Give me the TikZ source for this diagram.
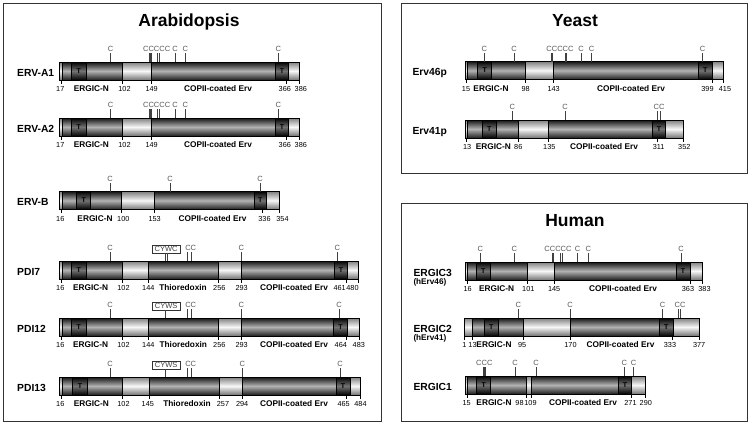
\documentclass[tikz,border=0pt]{standalone}
\usepackage{fontspec}
\setmainfont{Liberation Sans}
\usepackage{tikz}

\newcommand{\barbody}[2]{\path[lnkfill] (#1,-9) rectangle (#2,9);}
\newcommand{\domseg}[2]{\path[domfill] (#1,-9) rectangle (#2,9);}
\newcommand{\tmseg}[2]{\path[tmfill] (#1,-9) rectangle (#2,9);
  \node[tlab] at ({(#1+#2)/2},0) {T};}
\newcommand{\barframe}[2]{\draw[line width=0.55pt] (#1,-9) rectangle (#2,9);}
\newcommand{\cys}[1]{\draw[cline] (#1,-9) -- (#1,-18);}
\newcommand{\clab}[2]{\node[clabel] at (#1,-19.5) {#2};}
\newcommand{\postick}[1]{\draw[line width=0.45pt] (#1,9) -- (#1,12.5);}
\newcommand{\resnum}[2]{\node[num] at (#1,20.5) {#2};}
\newcommand{\dlab}[2]{\node[dname] at (#1,20.5) {#2};}

\begin{document}
\begin{tikzpicture}[x=1pt,y=-1pt,
  panel/.style={draw=black!80,line width=0.8pt},
  title/.style={font=\fontsize{17.5}{20}\selectfont\bfseries,anchor=base},
  rowname/.style={font=\fontsize{10.3}{12}\selectfont\bfseries,anchor=base west,inner sep=0pt},
  subname/.style={font=\fontsize{8.2}{9}\selectfont\bfseries,anchor=base west,inner sep=0pt},
  lnkfill/.style={top color=black!50,bottom color=black!55,middle color=black!3},
  domfill/.style={top color=black!92,bottom color=black!88,middle color=black!30,draw=black,line width=0.45pt},
  tmfill/.style={top color=black,bottom color=black,middle color=black!55,draw=black,line width=0.45pt},
  tlab/.style={font=\fontsize{7}{8}\selectfont\bfseries,inner sep=0pt},
  cline/.style={draw=black!75,line width=0.5pt},
  clabel/.style={font=\fontsize{7.5}{8}\selectfont,text=black!65,anchor=base,inner sep=0pt},
  num/.style={font=\fontsize{7.3}{8}\selectfont,anchor=base,inner sep=0pt},
  dname/.style={font=\fontsize{8.3}{10}\selectfont\bfseries,anchor=base,inner sep=0pt},
  motif/.style={draw=black!80,line width=0.5pt,font=\fontsize{7.5}{9}\selectfont,text=black!75,
    inner xsep=2.3pt,inner ysep=0pt,minimum height=7.7pt}]
\useasboundingbox (0,0) rectangle (750,426);

% panels
\draw[panel] (3,3) rectangle (381,421);
\draw[panel] (401,3) rectangle (747,173);
\draw[panel] (401,203) rectangle (747,421);
\node[title] (arab) at (189,26.7) {Arabidopsis};
\node[title] (yeast) at (575,26.7) {Yeast};
\node[title] (human) at (575,226.7) {Human};

% Arabidopsis
\foreach \ry/\nm in {71/ERV-A1,127/ERV-A2}{
\begin{scope}[shift={(0,\ry)}]
  \node[rowname] (\nm) at (17,5) {\nm};
  \barbody{59.3}{299.3}
  \domseg{62.3}{122.7}
  \domseg{151.7}{275.3}
  \tmseg{71.7}{86}
  \tmseg{275.3}{288.7}
  \barframe{59.3}{299.3}
  \foreach \x in {110.7,149.3,150.3,151.2,157.3,159.3,175,185.3,278.3} {\cys{\x}}
  \clab{110.7}{C} \clab{156.7}{CCCCC} \clab{175}{C} \clab{185.3}{C} \clab{278.3}{C}
  \foreach \x in {61,122.7,151.7,286.7,299.3} {\postick{\x}}
  \resnum{60.3}{17} \resnum{124.5}{102} \resnum{151.7}{149}
  \resnum{284.8}{366} \resnum{300.8}{386}
  \dlab{91.3}{ERGIC-N} \dlab{218}{COPII-coated Erv}
\end{scope}
}

\begin{scope}[shift={(0,200.5)}]
  \node[rowname] (ervb) at (17,5) {ERV-B};
  \barbody{59.3}{279.3}
  \domseg{62.7}{121.3}
  \domseg{154}{254}
  \tmseg{76.7}{90.7}
  \tmseg{254}{266.7}
  \barframe{59.3}{279.3}
  \foreach \x in {110,170,260} {\cys{\x} \clab{\x}{C}}
  \foreach \x in {61,121.3,154,262,279.3} {\postick{\x}}
  \resnum{60.3}{16} \resnum{123.3}{100} \resnum{154.7}{153}
  \resnum{264.5}{336} \resnum{282.5}{354}
  \dlab{95}{ERGIC-N} \dlab{212.5}{COPII-coated Erv}
\end{scope}

\begin{scope}[shift={(0,270)}]
  \node[rowname] (pdi7) at (17,5) {PDI7};
  \barbody{59.3}{358.3}
  \domseg{62.3}{122.7}
  \domseg{148.3}{218.3}
  \domseg{241.3}{334.3}
  \tmseg{71.7}{86}
  \tmseg{334.3}{347.7}
  \barframe{59.3}{358.3}
  \foreach \x in {110,187.7,191,241.3,337.3} {\cys{\x}}
  \clab{110}{C} \clab{190.7}{CC} \clab{241.3}{C} \clab{337.3}{C}
  \node[motif] (cywc) at (166.2,-21) {CYWC};
  \draw[cline] ([xshift=-0.6pt]cywc.south) -- ++(0,8);
  \draw[cline] ([xshift=0.6pt]cywc.south) -- ++(0,8);
  \foreach \x in {61,122.7,148.3,218.3,241.3,346.7,358.3} {\postick{\x}}
  \resnum{60.3}{16} \resnum{123.5}{102} \resnum{148.3}{144} \resnum{219.3}{256}
  \resnum{241.7}{293} \resnum{339.6}{461} \resnum{352.5}{480}
  \dlab{90.7}{ERGIC-N} \dlab{183}{Thioredoxin} \dlab{294}{COPII-coated Erv}
\end{scope}

\begin{scope}[shift={(0,327)}]
  \node[rowname] (pdi12) at (17,5) {PDI12};
  \barbody{59.3}{359.3}
  \domseg{62.3}{122.7}
  \domseg{148.3}{218.3}
  \domseg{241.3}{333.3}
  \tmseg{71.7}{86}
  \tmseg{333.3}{347.7}
  \barframe{59.3}{359.3}
  \foreach \x in {110,187.7,191,241.3,339} {\cys{\x}}
  \clab{110}{C} \clab{190.7}{CC} \clab{241.3}{C} \clab{339}{C}
  \node[motif] (cyws12) at (166.2,-21) {CYWS};
  \draw[cline] ([xshift=-1pt]cyws12.south) -- ++(0,8);
  \foreach \x in {61,122.7,148.3,218.3,241.3,346.7,359.3} {\postick{\x}}
  \resnum{60.3}{16} \resnum{123.5}{102} \resnum{148.3}{144} \resnum{219.3}{256}
  \resnum{241.7}{293} \resnum{340.8}{464} \resnum{358.8}{483}
  \dlab{90.7}{ERGIC-N} \dlab{183.3}{Thioredoxin} \dlab{294}{COPII-coated Erv}
\end{scope}

\begin{scope}[shift={(0,386)}]
  \node[rowname] (pdi13) at (17,5) {PDI13};
  \barbody{59.3}{360.7}
  \domseg{62.3}{122.7}
  \domseg{149.3}{219.3}
  \domseg{242.3}{336}
  \tmseg{72.7}{87.3}
  \tmseg{336}{350}
  \barframe{59.3}{360.7}
  \foreach \x in {110,187.7,191,242.3,340} {\cys{\x}}
  \clab{110}{C} \clab{190.7}{CC} \clab{242.3}{C} \clab{340}{C}
  \node[motif] (cyws13) at (166.2,-21) {CYWS};
  \draw[cline] ([xshift=-0.5pt]cyws13.south) -- ++(0,8);
  \foreach \x in {61,122.7,149.3,219.3,242.3,346.7,360.7} {\postick{\x}}
  \resnum{60.3}{16} \resnum{123.5}{102} \resnum{147.8}{145} \resnum{223}{257}
  \resnum{242.2}{294} \resnum{343.7}{465} \resnum{360.5}{484}
  \dlab{91.3}{ERGIC-N} \dlab{187}{Thioredoxin} \dlab{294}{COPII-coated Erv}
\end{scope}

% Yeast
\begin{scope}[shift={(0,70.5)}]
  \node[rowname] (erv46p) at (412.3,5) {Erv46p};
  \barbody{465}{723.3}
  \domseg{467.7}{525.7}
  \domseg{553.3}{698.3}
  \tmseg{477.7}{491.7}
  \tmseg{698.3}{712.3}
  \barframe{465}{723.3}
  \foreach \x in {484.3,514,551,552.3,565,566.3,581,591.7,702.7} {\cys{\x}}
  \clab{484.3}{C} \clab{514}{C} \clab{560}{CCCCC} \clab{581}{C} \clab{591.7}{C} \clab{702.7}{C}
  \foreach \x in {466,525.7,553.3,712.3,723.3} {\postick{\x}}
  \resnum{466}{15} \resnum{525.7}{98} \resnum{553.7}{143}
  \resnum{707.5}{399} \resnum{725}{415}
  \dlab{491}{ERGIC-N} \dlab{631}{COPII-coated Erv}
\end{scope}

\begin{scope}[shift={(0,129)}]
  \node[rowname] (erv41p) at (412.3,5) {Erv41p};
  \barbody{465}{683.7}
  \domseg{467.7}{518.3}
  \domseg{548.3}{652.3}
  \tmseg{482.3}{496.3}
  \tmseg{652.3}{665.7}
  \barframe{465}{683.7}
  \foreach \x in {512.3,565,657,660.3} {\cys{\x}}
  \clab{512.3}{C} \clab{565}{C} \clab{659}{CC}
  \foreach \x in {466,518.3,548.3,657.7,683.7} {\postick{\x}}
  \resnum{467.2}{13} \resnum{518.3}{86} \resnum{549.3}{135}
  \resnum{658.7}{311} \resnum{684.3}{352}
  \dlab{493.3}{ERGIC-N} \dlab{604}{COPII-coated Erv}
\end{scope}

% Human
\begin{scope}[shift={(0,271)}]
  \node[rowname] (ergic3) at (413.3,5) {ERGIC3};
  \node[subname] (herv46) at (413.3,13.2) {(hErv46)};
  \barbody{465}{702.3}
  \domseg{467.7}{527.7}
  \domseg{554.3}{676}
  \tmseg{476}{490.7}
  \tmseg{676}{690}
  \barframe{465}{702.3}
  \foreach \x in {480.3,514.3,552.3,553.7,560.7,562.3,577.7,588.3,681} {\cys{\x}}
  \clab{480.3}{C} \clab{514.3}{C} \clab{558}{CCCCC} \clab{577.7}{C} \clab{588.3}{C} \clab{681}{C}
  \foreach \x in {467.7,527.7,554.3,690,702.3} {\postick{\x}}
  \resnum{467.7}{16} \resnum{528.3}{101} \resnum{554.2}{145}
  \resnum{688}{363} \resnum{704.5}{383}
  \dlab{496.7}{ERGIC-N} \dlab{623}{COPII-coated Erv}
\end{scope}

\begin{scope}[shift={(0,327)}]
  \node[rowname] (ergic2) at (413.3,5.3) {ERGIC2};
  \node[subname] (herv41) at (413.3,13.5) {(hErv41)};
  \barbody{464.3}{699}
  \domseg{472.3}{523.3}
  \domseg{570}{659.3}
  \tmseg{484.3}{498.3}
  \tmseg{659.3}{673.3}
  \barframe{464.3}{699}
  \foreach \x in {518.3,570,662.7,678.3,680.3} {\cys{\x}}
  \clab{518.3}{C} \clab{570}{C} \clab{662.7}{C} \clab{680}{CC}
  \foreach \x in {464.3,472.3,523.3,570,672.3,699} {\postick{\x}}
  \resnum{464.3}{1} \resnum{472.5}{13} \resnum{522.2}{95} \resnum{570.5}{170}
  \resnum{670}{333} \resnum{699.2}{377}
  \dlab{494}{ERGIC-N} \dlab{620.5}{COPII-coated Erv}
\end{scope}

\begin{scope}[shift={(0,385)}]
  \node[rowname] (ergic1) at (413.3,5) {ERGIC1};
  \barbody{465}{645}
  \domseg{467.3}{526}
  \domseg{531.7}{618.3}
  \tmseg{476.7}{490.7}
  \tmseg{618.3}{631.7}
  \barframe{465}{645}
  \foreach \x in {483.7,484.7,485.7,515,536,624.3,633.7} {\cys{\x}}
  \clab{484.3}{CCC} \clab{515}{C} \clab{536}{C} \clab{624.3}{C} \clab{633.7}{C}
  \foreach \x in {467,526,531.7,631.7,645} {\postick{\x}}
  \resnum{466.7}{15} \resnum{519.5}{98} \resnum{530.5}{109}
  \resnum{630.5}{271} \resnum{645.8}{290}
  \dlab{494}{ERGIC-N} \dlab{583}{COPII-coated Erv}
\end{scope}
\end{tikzpicture}
\end{document}
